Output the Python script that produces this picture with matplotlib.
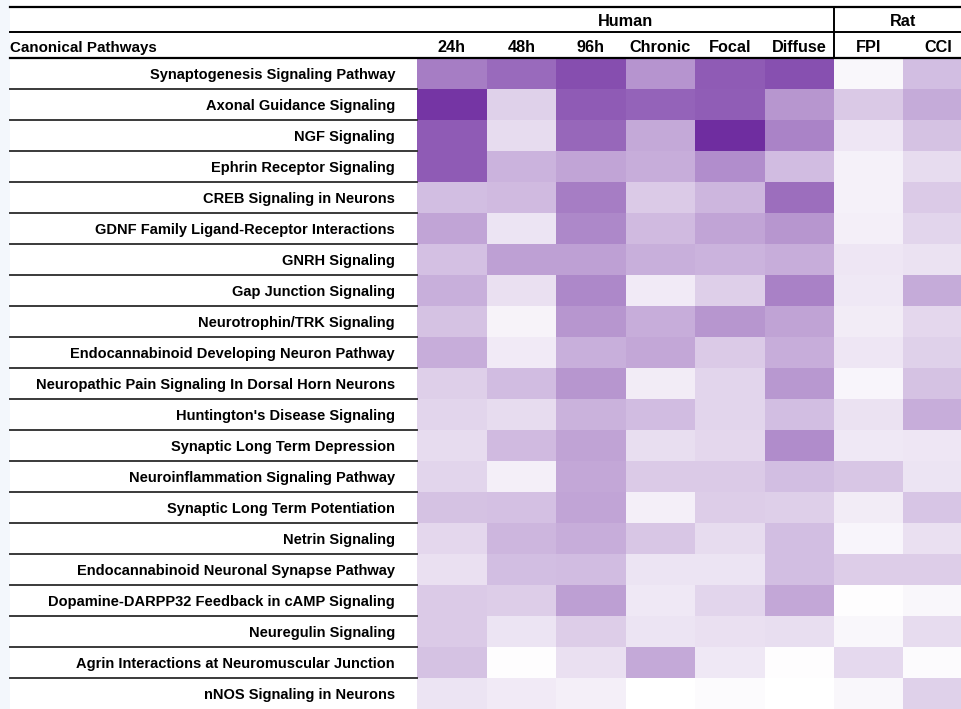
import numpy as np
import matplotlib
matplotlib.use("Agg")
import matplotlib.pyplot as plt
from matplotlib.colors import LinearSegmentedColormap
from matplotlib.lines import Line2D
from matplotlib.patches import Rectangle
from matplotlib import transforms

# ---- data -------------------------------------------------------------
pathways = [
    "Synaptogenesis Signaling Pathway",
    "Axonal Guidance Signaling",
    "NGF Signaling",
    "Ephrin Receptor Signaling",
    "CREB Signaling in Neurons",
    "GDNF Family Ligand-Receptor Interactions",
    "GNRH Signaling",
    "Gap Junction Signaling",
    "Neurotrophin/TRK Signaling",
    "Endocannabinoid Developing Neuron Pathway",
    "Neuropathic Pain Signaling In Dorsal Horn Neurons",
    "Huntington's Disease Signaling",
    "Synaptic Long Term Depression",
    "Neuroinflammation Signaling Pathway",
    "Synaptic Long Term Potentiation",
    "Netrin Signaling",
    "Endocannabinoid Neuronal Synapse Pathway",
    "Dopamine-DARPP32 Feedback in cAMP Signaling",
    "Neuregulin Signaling",
    "Agrin Interactions at Neuromuscular Junction",
    "nNOS Signaling in Neurons",
]

conditions = ["24h", "48h", "96h", "Chronic", "Focal", "Diffuse", "FPI", "CCI"]
species = ["Human", "Rat"]
species_span = [(0, 6), (6, 8)]

# relative enrichment score per condition (0 = none, 1 = strongest)
h24 = [0.62, 0.96, 0.78, 0.78, 0.31, 0.43, 0.30, 0.38, 0.29, 0.39, 0.23,
       0.20, 0.17, 0.20, 0.29, 0.19, 0.15, 0.25, 0.25, 0.29, 0.13]
h48 = [0.71, 0.22, 0.17, 0.36, 0.33, 0.13, 0.45, 0.15, 0.06, 0.10, 0.32,
       0.17, 0.33, 0.08, 0.30, 0.35, 0.31, 0.24, 0.13, 0.01, 0.10]
h96 = [0.84, 0.78, 0.72, 0.43, 0.62, 0.57, 0.45, 0.57, 0.50, 0.38, 0.50,
       0.37, 0.44, 0.42, 0.43, 0.39, 0.32, 0.46, 0.24, 0.15, 0.08]
chronic = [0.51, 0.74, 0.41, 0.39, 0.25, 0.33, 0.38, 0.10, 0.39, 0.42, 0.09,
           0.32, 0.16, 0.25, 0.08, 0.27, 0.13, 0.11, 0.13, 0.41, 0.00]
focal = [0.78, 0.77, 1.00, 0.54, 0.35, 0.43, 0.36, 0.23, 0.50, 0.25, 0.20,
         0.20, 0.19, 0.25, 0.24, 0.17, 0.13, 0.20, 0.15, 0.11, 0.02]
diffuse = [0.83, 0.50, 0.59, 0.32, 0.69, 0.50, 0.39, 0.60, 0.44, 0.39, 0.49,
           0.31, 0.55, 0.31, 0.23, 0.31, 0.31, 0.42, 0.16, 0.01, 0.00]
fpi = [0.04, 0.26, 0.12, 0.07, 0.07, 0.08, 0.12, 0.11, 0.09, 0.12, 0.05,
       0.14, 0.11, 0.27, 0.09, 0.05, 0.24, 0.01, 0.04, 0.18, 0.04]
cci = [0.31, 0.40, 0.29, 0.17, 0.25, 0.20, 0.14, 0.40, 0.19, 0.22, 0.29,
       0.39, 0.12, 0.13, 0.28, 0.15, 0.24, 0.04, 0.17, 0.02, 0.22]

# ---- figure -----------------------------------------------------------
W, H = 961, 709
fig = plt.figure(figsize=(W / 100, H / 100), dpi=100)
fig.patch.set_facecolor("white")

FAM = ["Liberation Sans", "DejaVu Sans"]
ROW_FONT = dict(family=FAM, weight="bold", size=10.5, color="black")
HEAD_FONT = dict(family=FAM, weight="bold", size=11.7, color="black")

# faint tinted margin on the left
fig.add_artist(Rectangle((0, 0), 10 / W, 1, transform=fig.transFigure,
                         facecolor="#f3f7fc", edgecolor="none", zorder=0))

# heatmap block
x0, x1, y_top, y_bot = 417, 973, 58, 709
ax = fig.add_axes([x0 / W, 1 - y_bot / H, (x1 - x0) / W, (y_bot - y_top) / H])
data = np.array([h24, h48, h96, chronic, focal, diffuse, fpi, cci]).T
cmap = LinearSegmentedColormap.from_list("purples", ["#ffffff", "#6f2da0"])
ax.pcolormesh(np.arange(len(conditions) + 1), np.arange(len(pathways) + 1),
              data, cmap=cmap, vmin=0, vmax=1, edgecolor="none")
ax.set_xlim(0, len(conditions))
ax.set_ylim(len(pathways), 0)
ax.axis("off")

fy = lambda y: 1 - y / H
fx = lambda x: x / W
col_tr = transforms.blended_transform_factory(ax.transData, fig.transFigure)
row_tr = transforms.blended_transform_factory(fig.transFigure, ax.transData)
# baseline sits a little below the row centre
row_text_tr = transforms.offset_copy(row_tr, fig=fig, y=-5.8, units="dots")

# header rules
for y, lw in [(7, 1.6), (31.5, 1.4), (58, 1.6)]:
    fig.add_artist(Line2D([fx(10), 1], [fy(y), fy(y)], transform=fig.transFigure,
                          color="black", lw=lw, zorder=5))

# species group headers and divider
for name, (a, b) in zip(species, species_span):
    ax.text((a + b) / 2, fy(26.5), name, transform=col_tr, ha="center",
            va="baseline", clip_on=False, **HEAD_FONT)
div = species_span[1][0]
ax.add_line(Line2D([div, div], [fy(7), fy(58)], transform=col_tr,
                   color="black", lw=1.4, clip_on=False))

# condition headers
for j, c in enumerate(conditions):
    ax.text(j + 0.5, fy(52.3), c, transform=col_tr, ha="center",
            va="baseline", clip_on=False, **HEAD_FONT)
fig.text(fx(10), fy(52.3), "Canonical Pathways", ha="left", va="baseline",
         family=FAM, weight="bold", size=10.9, color="black")

# pathway labels and row rules
for i, p in enumerate(pathways):
    ax.text(fx(395), i + 0.5, p, transform=row_text_tr, ha="right",
            va="baseline", clip_on=False, **ROW_FONT)
    if i > 0:
        ax.add_line(Line2D([fx(10), fx(x0)], [i, i], transform=row_tr,
                           color="#3a3a3a", lw=1.4, clip_on=False))

fig.savefig("out.png", dpi=100)
